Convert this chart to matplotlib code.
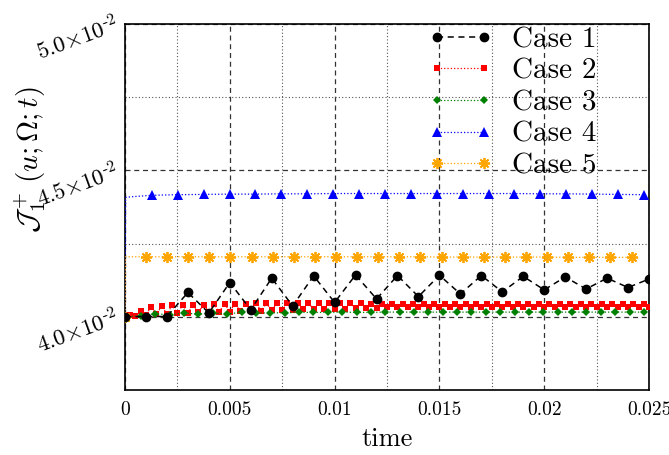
import numpy as np
import matplotlib
matplotlib.use('Agg')
import matplotlib.pyplot as plt

plt.rcParams['mathtext.fontset'] = 'cm'
plt.rcParams['font.family'] = 'cmr10'
plt.rcParams['axes.formatter.use_mathtext'] = True

# Case 1: sampled every 1e-3 s
t1 = np.arange(26) * 0.001
case1 = [0.04000, 0.04001, 0.04001, 0.04083, 0.04013, 0.04117, 0.04024, 0.04132,
         0.04037, 0.04140, 0.04049, 0.04143, 0.04061, 0.04141, 0.04069, 0.04142,
         0.04078, 0.04141, 0.04085, 0.04138, 0.04092, 0.04136, 0.04095, 0.04132,
         0.04100, 0.04129]

# Case 2: sampled every 2.5e-4 s
t2 = np.arange(101) * 0.00025
case2 = [0.04000, 0.04005, 0.04002, 0.04021, 0.04006, 0.04035, 0.04008, 0.04037,
         0.04010, 0.04039, 0.04012, 0.04040, 0.04013, 0.04041, 0.04015, 0.04042,
         0.04016, 0.04043, 0.04017, 0.04044, 0.04018, 0.04045, 0.04019, 0.04045,
         0.04020, 0.04046, 0.04021, 0.04046, 0.04022, 0.04047, 0.04023, 0.04047,
         0.04024, 0.04047, 0.04025, 0.04047, 0.04026, 0.04047, 0.04026, 0.04047,
         0.04027, 0.04046, 0.04028, 0.04046, 0.04029, 0.04046, 0.04030, 0.04045,
         0.04031, 0.04045, 0.04032, 0.04045, 0.04033, 0.04044, 0.04034, 0.04044,
         0.04034, 0.04044, 0.04035, 0.04044, 0.04035, 0.04044, 0.04035, 0.04044,
         0.04035, 0.04044, 0.04035, 0.04044, 0.04035, 0.04044, 0.04035, 0.04044,
         0.04035, 0.04044, 0.04035, 0.04044, 0.04035, 0.04044, 0.04035, 0.04044,
         0.04035, 0.04044, 0.04035, 0.04044, 0.04035, 0.04044, 0.04035, 0.04044,
         0.04035, 0.04044, 0.04035, 0.04044, 0.04035, 0.04044, 0.04035, 0.04044,
         0.04035, 0.04044, 0.04035, 0.04044, 0.04035]

# Case 3
t3 = np.concatenate([[0.0], np.linspace(0.00076, 0.02476, 36)])
case3 = [0.04000, 0.04003, 0.04010, 0.04007, 0.04013, 0.04009, 0.04013, 0.04010,
         0.04015, 0.04013, 0.04013, 0.04014, 0.04015, 0.04015, 0.04015, 0.04016,
         0.04015, 0.04015, 0.04016, 0.04016, 0.04016, 0.04016, 0.04016, 0.04016,
         0.04016, 0.04016, 0.04016, 0.04016, 0.04016, 0.04016, 0.04016, 0.04016,
         0.04016, 0.04016, 0.04016, 0.04016, 0.04016]

# Case 4: fast initial rise, then nearly flat
t4 = np.concatenate([[0.0, 0.00003, 0.0005], np.linspace(0.00128, 0.02476, 20)])
case4 = [0.04000, 0.04408, 0.04411,
         0.04415, 0.04417, 0.04418, 0.04419, 0.04419, 0.04420, 0.04420, 0.04421,
         0.04421, 0.04421, 0.04421, 0.04421, 0.04421, 0.04421, 0.04421, 0.04420,
         0.04420, 0.04419, 0.04418, 0.04417]

# Case 5: jump at t=0, then flat
t5 = np.concatenate([[0.0, 0.00003], np.linspace(0.001, 0.02417, 24)])
case5 = [0.04000, 0.04205,
         0.04205, 0.04205, 0.04205, 0.04205, 0.04205, 0.04205, 0.04205, 0.04205,
         0.04205, 0.04205, 0.04205, 0.04205, 0.04205, 0.04205, 0.04204, 0.04204,
         0.04204, 0.04204, 0.04204, 0.04204, 0.04203, 0.04203, 0.04203, 0.04203]

labels = ['Case 1', 'Case 2', 'Case 3', 'Case 4', 'Case 5']
ytick_vals = [0.040, 0.045, 0.050]
ytick_text = [r'$4.0{\times}10^{\text{-}2}$', r'$4.5{\times}10^{\text{-}2}$',
              r'$5.0{\times}10^{\text{-}2}$']
xtick_vals = [0, 0.005, 0.01, 0.015, 0.02, 0.025]
xtick_text = ['0', '0.005', '0.01', '0.015', '0.02', '0.025']

fig = plt.figure(figsize=(6.69, 4.55), dpi=100)
ax = fig.add_axes([125 / 669, 1 - 390 / 455, 524 / 669, 366 / 455])

ax.plot(t1, case1, color='black', ls=(0, (4, 3)), lw=1.1, marker='o', ms=6,
        label=labels[0], zorder=5)
ax.plot(t2, case2, color='red', ls=':', lw=0.9, marker='s', ms=4.5, mew=0,
        label=labels[1], zorder=4)
ax.plot(t3, case3, color='green', ls=':', lw=0.9, marker='D', ms=4.5, mew=0,
        markevery=list(range(1, len(t3))), label=labels[2], zorder=4)
ax.plot(t4, case4, color='blue', ls=':', lw=0.9, marker='^', ms=7, mew=0,
        markevery=list(range(3, len(t4))), label=labels[3], zorder=4)
ax.plot(t5, case5, color='orange', ls=':', lw=0.9, marker=(8, 2, 0), ms=8, mew=1.3,
        markevery=[0] + list(range(2, len(t5))), label=labels[4], zorder=4)

ax.set_xlim(0, 0.025)
ax.set_ylim(0.0375, 0.05)
ax.set_xticks(xtick_vals)
ax.set_xticklabels(xtick_text, fontsize=14)
ax.set_xticks([0.0025, 0.0075, 0.0125, 0.0175, 0.0225], minor=True)
ax.set_yticks(ytick_vals)
ax.set_yticklabels(ytick_text, fontsize=16.5, rotation=20, ha='right', va='center',
                   rotation_mode='anchor')
ax.set_yticks([0.0425, 0.0475], minor=True)
ax.tick_params(which='both', length=0)
ax.tick_params(axis='x', pad=8)
ax.tick_params(axis='y', pad=5)

ax.grid(which='major', ls=(0, (4, 3)), color='#333333', lw=0.9)
ax.grid(which='minor', ls=(0, (1, 2)), color='#555555', lw=0.8)
ax.set_axisbelow(True)
for s in ax.spines.values():
    s.set_linewidth(1.2)

ax.set_xlabel('time', fontsize=19, labelpad=6)
fig.text(30 / 669, 1 - 160 / 455, r'$\mathcal{J}_1^+\,(u;\Omega;t)$', fontsize=21,
         rotation=90, ha='center', va='center')

ax.legend(loc='upper right', bbox_to_anchor=(611 / 669, 1 - 12 / 455),
          bbox_transform=fig.transFigure, frameon=False, numpoints=2,
          handlelength=2.2, handletextpad=0.66, labelspacing=0.18,
          prop={'family': 'cmr10', 'size': 21}, borderpad=0)

fig.savefig('out.png', dpi=100)
